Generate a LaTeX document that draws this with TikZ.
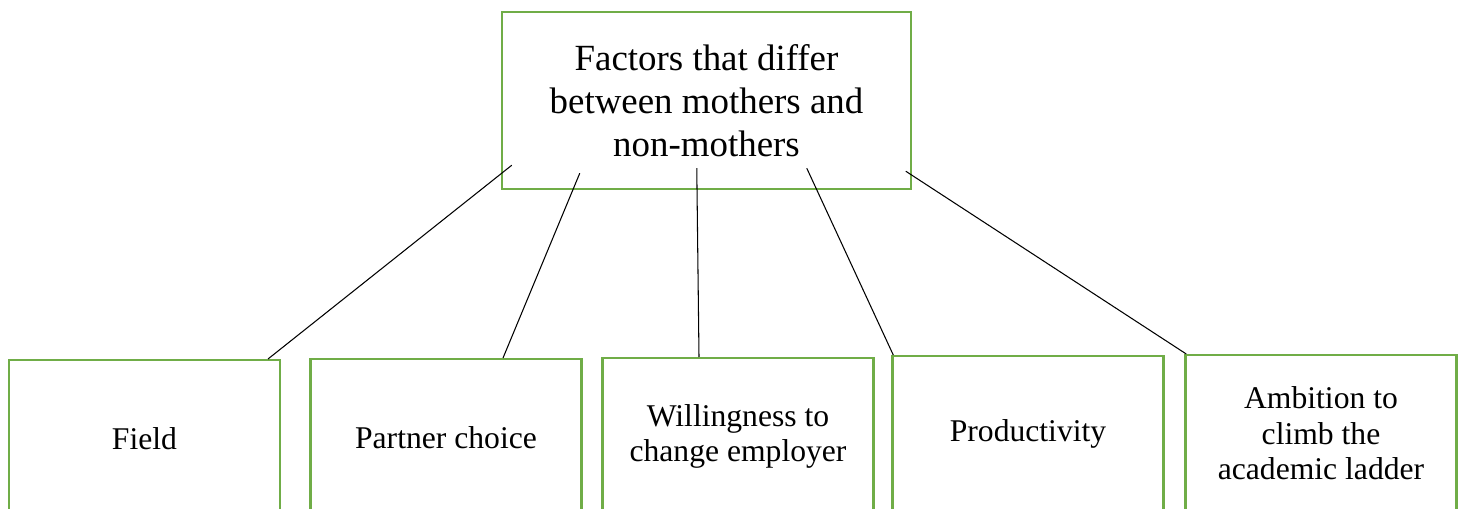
\documentclass[tikz,border=0pt]{standalone}
\usepackage{fontspec}
\setmainfont{Liberation Serif}
\usetikzlibrary{calc}

\definecolor{boxgreen}{HTML}{70AD47}

\begin{document}
\begin{tikzpicture}[block/.style={align=center,rectangle,draw=boxgreen,line width=1.4pt,fill=white,inner sep=0pt},
    factor/.style={block,minimum width=5.42cm,minimum height=3.12cm,anchor=north,font=\fontsize{18}{20}\selectfont}]
        \useasboundingbox (0,0) rectangle (29.24,10.16);
        \node [block,minimum width=8.18cm,minimum height=3.54cm,font=\fontsize{21}{24.5}\selectfont] (F) at (14.13,8.15) {Factors that differ\\between mothers and\\non-mothers};
        \node [factor] (f1) at (2.89,2.98) {Field};
        \node [factor] (f2) at (8.92,3.00) {Partner choice};
        \node [factor] (f3) at (14.76,3.02) {Willingness to\\change employer};
        \node [factor] (f4) at (20.56,3.06) {Productivity};
        \node [factor] (f5) at (26.42,3.08) {Ambition to\\climb the\\academic ladder};
        \coordinate (F1) at ([shift={(0.22,0.50)}]F.south west);
        \coordinate (F2) at ([shift={(1.58,0.34)}]F.south west);
        \coordinate (F3) at ([shift={(3.92,0.44)}]F.south west);
        \coordinate (F4) at ([shift={(6.12,0.44)}]F.south west);
        \coordinate (F5) at ([shift={(8.10,0.38)}]F.south west);
        \draw[line width=.6pt] (F1) -- ([xshift=2.47cm]f1.north);
        \draw[line width=.6pt] (F2) -- ([xshift=1.14cm]f2.north);
        \draw[line width=.6pt] (F3) -- ([xshift=-0.78cm]f3.north);
        \draw[line width=.6pt] (F4) -- ([xshift=0.04cm]f4.north west);
        \draw[line width=.6pt] (F5) -- ([xshift=0.04cm]f5.north west);
    \end{tikzpicture}
\end{document}
